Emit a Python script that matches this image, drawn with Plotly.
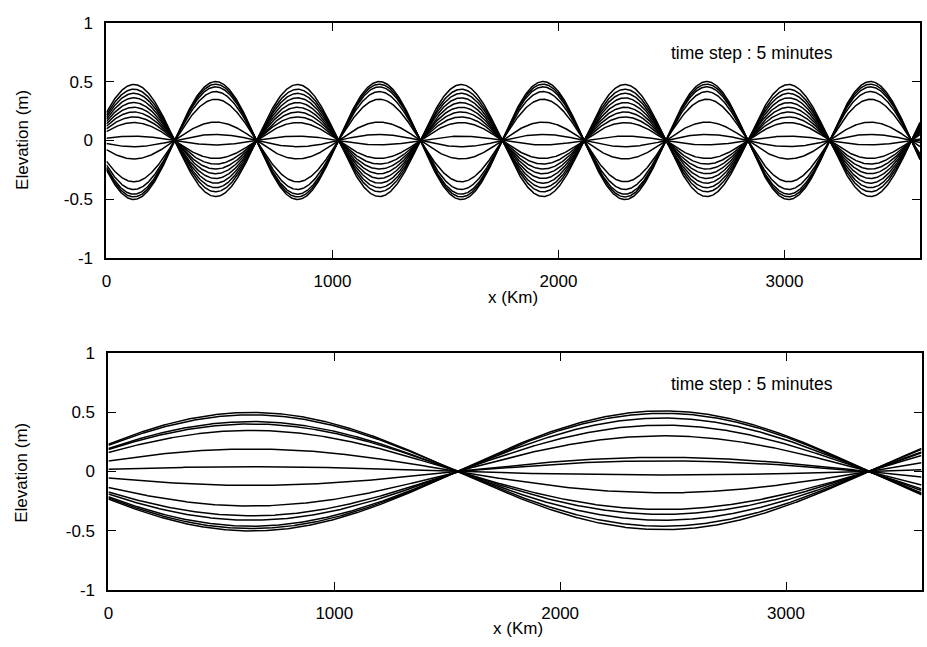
import numpy as np
import plotly.graph_objects as go

W, H = 927, 647

# distance along the channel (km)
x_km = np.linspace(0.0, 3600.0, 1441)

# upper panel: short standing wave, one snapshot every 5 minutes
top_node_km = 302.0
top_half_wavelength_km = 362.2
top_amplitudes_m = [0.475, 0.435, 0.400, 0.362, 0.322, 0.282, 0.242, 0.200, 0.152,
                    0.037, -0.052, -0.156, -0.350, -0.415, -0.455, -0.478, -0.500]

# lower panel: long standing wave, amplitude read separately on each lobe
bottom_node_km = 1544.0
bottom_half_wavelength_km = 1823.0
bottom_amp_lobe1_m = [0.497, 0.477, 0.420, 0.400, 0.346, 0.190, 0.040,
                      -0.117, -0.290, -0.373, -0.410, -0.460, -0.480, -0.500]
bottom_amp_lobe2_m = [0.490, 0.460, 0.410, 0.360, 0.320, 0.180, 0.030,
                      -0.090, -0.120, -0.300, -0.390, -0.450, -0.490, -0.510]

x_ticks = [0, 1000, 2000, 3000]
y_ticks = [-1, -0.5, 0, 0.5, 1]
y_tick_text = ["-1", "-0.5", "0", "0.5", "1"]

FONT = "Liberation Sans, Arial, Helvetica, sans-serif"


def mode_shape(x, node, half):
    return np.sin(np.pi * (node - x) / half)


fig = go.Figure()
line = dict(color="black", width=1.5)

s_top = mode_shape(x_km, top_node_km, top_half_wavelength_km)
for a in top_amplitudes_m:
    fig.add_trace(go.Scatter(x=x_km, y=a * s_top, mode="lines", line=line,
                             xaxis="x", yaxis="y", hoverinfo="skip"))

s_bot = mode_shape(x_km, bottom_node_km, bottom_half_wavelength_km)
second_lobe = (x_km > bottom_node_km) & (x_km < bottom_node_km + bottom_half_wavelength_km)
for a1, a2 in zip(bottom_amp_lobe1_m, bottom_amp_lobe2_m):
    amp = np.where(second_lobe, a2, a1)
    fig.add_trace(go.Scatter(x=x_km, y=amp * s_bot, mode="lines", line=line,
                             xaxis="x2", yaxis="y2", hoverinfo="skip"))

xaxis_common = dict(range=[0, 3600], tickvals=x_ticks, ticks="inside", ticklen=8,
                    tickwidth=1, tickcolor="black", showline=True, linewidth=2,
                    linecolor="black", mirror="ticks", showgrid=False, zeroline=False,
                    tickfont=dict(family=FONT, size=17, color="black"),
                    ticklabelstandoff=6)
yaxis_common = dict(range=[-1, 1], tickvals=y_ticks, ticktext=y_tick_text,
                    ticks="inside", ticklen=8, tickwidth=1, tickcolor="black",
                    showline=True, linewidth=2, linecolor="black", mirror="ticks",
                    showgrid=False, zeroline=False,
                    tickfont=dict(family=FONT, size=17, color="black"),
                    ticklabelstandoff=8)

fig.update_layout(
    width=W, height=H,
    margin=dict(l=0, r=0, t=0, b=0),
    paper_bgcolor="white", plot_bgcolor="white",
    showlegend=False,
    font=dict(family=FONT, size=17, color="black"),
    xaxis=dict(domain=[102 / W, 920 / W], anchor="y", **xaxis_common),
    yaxis=dict(domain=[1 - 257 / H, 1 - 14 / H], anchor="x", **yaxis_common),
    xaxis2=dict(domain=[104 / W, 921.5 / W], anchor="y2", **xaxis_common),
    yaxis2=dict(domain=[1 - 599 / H, 1 - 354 / H], anchor="x2", **yaxis_common),
)

annotations = []
for xc, yc in [(511, 297), (516, 638)]:
    annotations.append(dict(text="x (Km)", x=xc / W, y=1 - yc / H, xref="paper",
                            yref="paper", xanchor="center", yanchor="middle",
                            showarrow=False, font=dict(family=FONT, size=17)))
for yc in [135, 478]:
    annotations.append(dict(text="Elevation (m)", x=17 / W, y=1 - yc / H, xref="paper",
                            yref="paper", xanchor="center", yanchor="middle",
                            textangle=-90, showarrow=False,
                            font=dict(family=FONT, size=17)))
for yc in [45, 386]:
    annotations.append(dict(text="time step : 5 minutes", x=668 / W, y=1 - yc / H,
                            xref="paper", yref="paper", xanchor="left",
                            yanchor="middle", showarrow=False,
                            font=dict(family=FONT, size=17.5)))
fig.update_layout(annotations=annotations)

# page without the default body margin so the figure fills the window exactly
fig.write_html(
    "out.html",
    post_script="document.body.style.margin='0';document.body.style.overflow='hidden';",
)
